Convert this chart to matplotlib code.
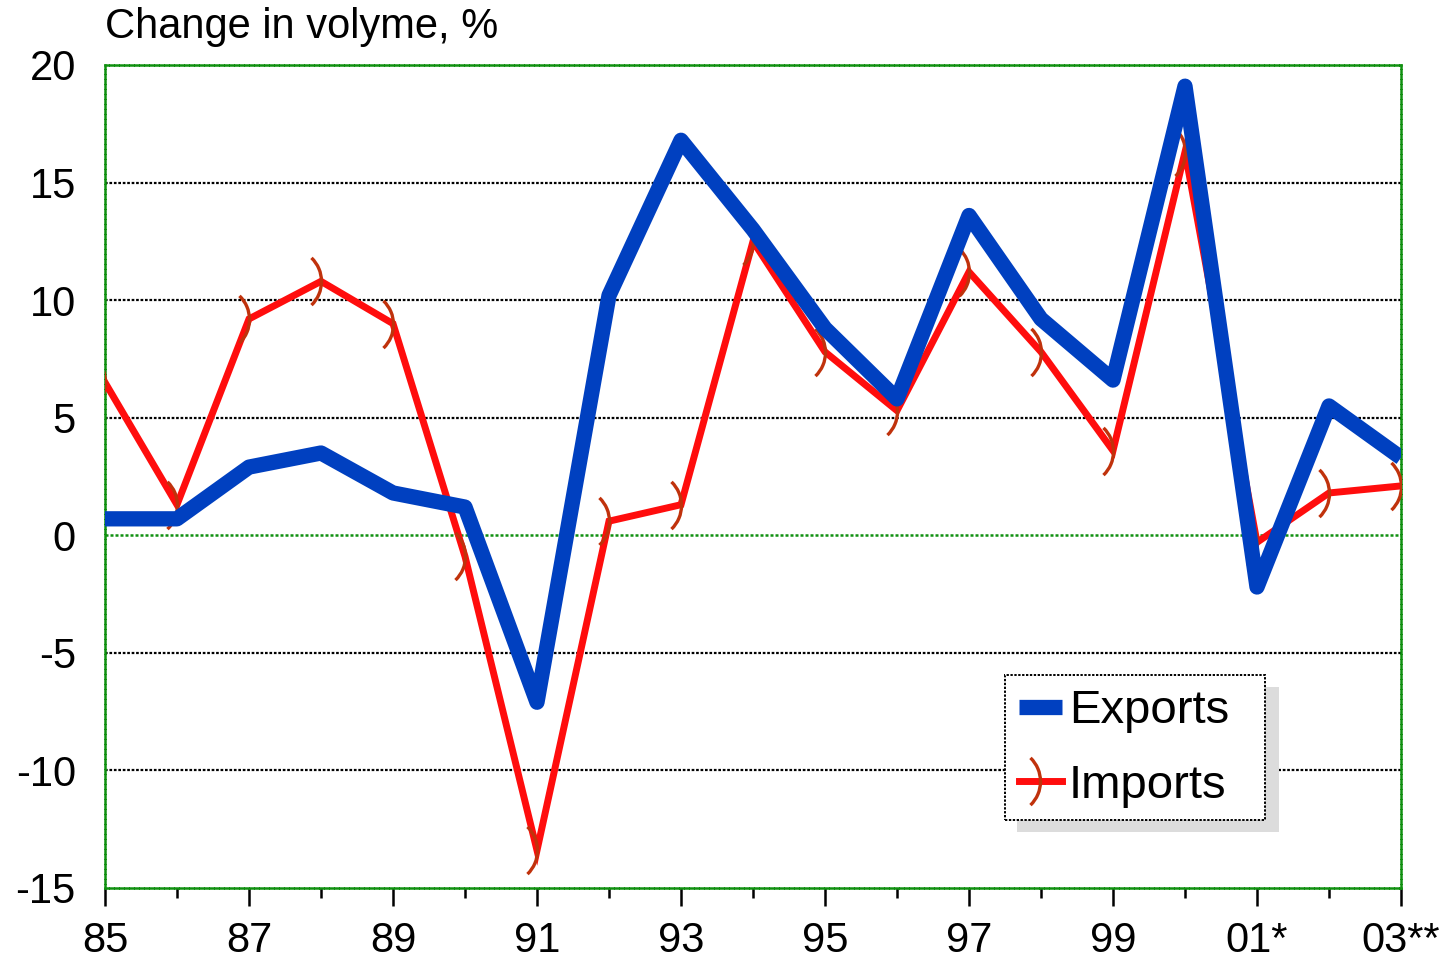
import matplotlib
matplotlib.use("Agg")
import matplotlib.pyplot as plt
from matplotlib.path import Path
from matplotlib.patches import Rectangle
import numpy as np

plt.rcParams['font.family'] = ['Liberation Sans', 'DejaVu Sans']

## Data
years = ['85', '86', '87', '88', '89', '90', '91', '92', '93', '94',
         '95', '96', '97', '98', '99', '00', '01*', '02', '03**']
exports = [0.7, 0.7, 2.9, 3.5, 1.8, 1.2, -7.1, 10.2, 16.8, 13.0,
           8.8, 5.8, 13.6, 9.2, 6.6, 19.1, -2.2, 5.5, 3.3]
imports = [6.5, 1.3, 9.2, 10.8, 9.0, -0.9, -13.4, 0.6, 1.3, 12.5,
           7.8, 5.3, 11.2, 7.8, 3.6, 16.3, -0.3, 1.8, 2.1]
yticks = [-15, -10, -5, 0, 5, 10, 15, 20]

## ")" shaped marker for the imports series (right edge sits on the point)
arc = Path.arc(-46, 46)
arc_marker = Path(arc.vertices - np.array([1.0, 0.0]), arc.codes)

W, H = 1445, 964
fig = plt.figure(figsize=(W/100, H/100), dpi=100)
ax = fig.add_axes([105/W, 1 - 888/H, (1401 - 105)/W, (888 - 65)/H])

x = np.arange(len(years))

# grid lines
for yv in yticks:
    if yv == 0:
        ax.axhline(yv, color='#109010', lw=1.8, ls=(0, (1.2, 0.8)), zorder=1)
    elif yv not in (-15, 20):
        ax.axhline(yv, color='black', lw=1.6, ls=(0, (1.2, 0.8)), zorder=1)

ax.plot(x, imports, color='#ff0d0d', lw=5, solid_joinstyle='miter',
        marker=arc_marker, markersize=34, markerfacecolor='none',
        markeredgecolor='#c0320c', markeredgewidth=2.4, label='Imports', zorder=3)
ax.plot(x, exports, color='#0040c0', lw=11, solid_joinstyle='round',
        solid_capstyle='butt', label='Exports', zorder=4)

ax.set_xlim(0, len(years) - 1)
ax.set_ylim(-15, 20)

for s in ax.spines.values():
    s.set_color('#109010')
    s.set_linestyle((0, (1.2, 0.8)))
    s.set_linewidth(1.8)

ax.set_yticks(yticks)
ax.set_yticklabels([str(v) for v in yticks], fontsize=30)
ax.tick_params(axis='y', length=0, pad=21)

ax.set_xticks(x[::2])
ax.set_xticklabels(years[::2], fontsize=30)
ax.set_xticks(x[1::2], minor=True)
ax.tick_params(axis='x', which='major', direction='out', length=13, width=1.8,
               color='black', pad=11)
ax.tick_params(axis='x', which='minor', direction='out', length=7, width=1.8,
               color='black')

fig.text(105/W, 1 - 27/H, 'Change in volyme, %', fontsize=30,
         ha='left', va='center')

# legend box with flat grey shadow
fig.patches.append(Rectangle((1017/W, 1 - 832/H), 262/W, 145/H,
                             transform=fig.transFigure, facecolor='#dcdcdc',
                             edgecolor='none', zorder=5))
fig.patches.append(Rectangle((1005/W, 1 - 820/H), 260/W, 145/H,
                             transform=fig.transFigure, facecolor='white',
                             edgecolor='black', lw=1.4, ls=(0, (1.2, 0.8)),
                             zorder=6))

handles, labels = ax.get_legend_handles_labels()
leg = fig.legend(handles[::-1], labels[::-1], loc='upper left',
                 bbox_to_anchor=(1005/W, 1 - 675/H), borderaxespad=0,
                 fontsize=34, frameon=False, numpoints=1,
                 handlelength=0.9, handletextpad=0.15, borderpad=0.3,
                 labelspacing=0.65)
leg.set_zorder(7)

fig.savefig('out.png', dpi=100)
